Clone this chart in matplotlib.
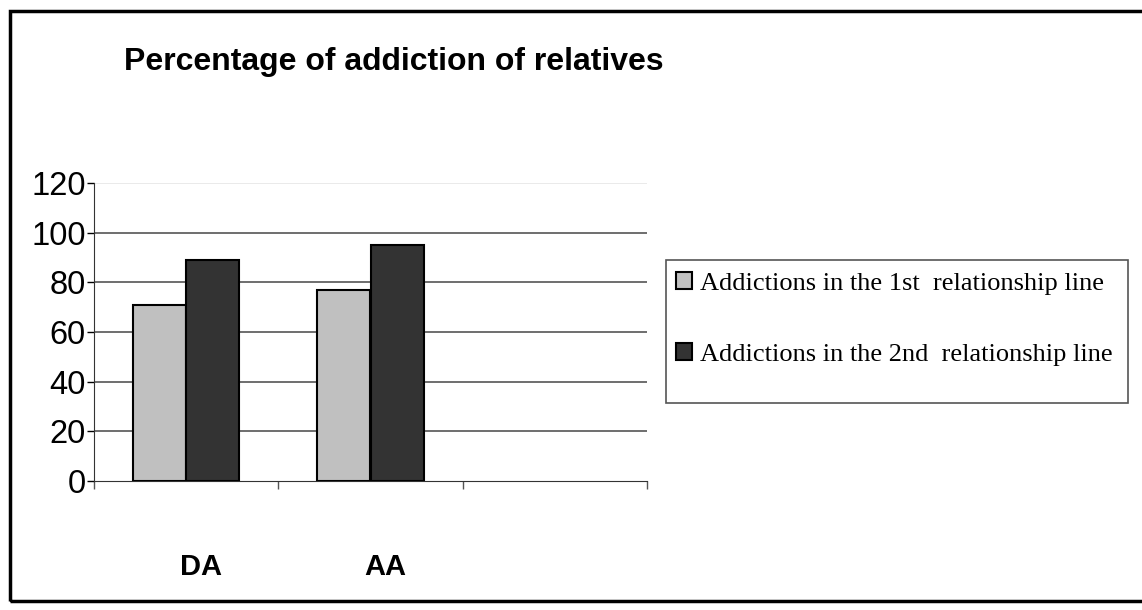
import matplotlib.pyplot as plt
from matplotlib.patches import Rectangle
import numpy as np

categories = ['DA', 'AA', '']
first_line = [71, 77, 0]
second_line = [89, 95, 0]
series_names = ['Addictions in the 1st  relationship line',
                'Addictions in the 2nd  relationship line']
yticks = [0, 20, 40, 60, 80, 100, 120]

fig = plt.figure(figsize=(11.42, 6.10), dpi=100)

# frame round the whole chart (right edge runs off the picture)
fig.add_artist(Rectangle((10 / 1142, 1 - 601 / 610), 1.0, 590 / 610,
                         transform=fig.transFigure, fill=False,
                         edgecolor='black', lw=2.5))

ax = fig.add_axes([94 / 1142, 1 - 481 / 610, 553 / 1142, 298 / 610])

x = np.arange(len(categories)) + 0.5
w = 0.288
ax.bar(x[:2] - w / 2, first_line[:2], w, color='#c0c0c0', edgecolor='black', lw=1.5,
       label=series_names[0], zorder=3)
ax.bar(x[:2] + w / 2, second_line[:2], w, color='#333333', edgecolor='black', lw=1.5,
       label=series_names[1], zorder=3)

ax.set_xlim(0, 3)
ax.set_ylim(0, 120)
ax.set_yticks(yticks)
ax.set_yticklabels([str(v) for v in yticks], fontsize=23.5, family='Liberation Sans')
for v in yticks[1:]:
    ax.axhline(v, color='#e6e6e6' if v == 120 else '#555555', lw=1.2, zorder=1)

ax.set_xticks([0, 1, 2, 3])
ax.set_xticklabels([])
ax.set_xticks(x[:2] + 0.08, minor=True)
ax.set_xticklabels(categories[:2], minor=True, fontsize=21, fontweight='bold',
                   family='Liberation Sans')
ax.tick_params(axis='x', which='minor', length=0, pad=52)
ax.tick_params(axis='x', which='major', length=6, width=1, color='#555555')
ax.tick_params(axis='y', length=5, width=1, pad=1)

for s in ['top', 'right']:
    ax.spines[s].set_visible(False)
ax.spines['left'].set_color('#333333')
ax.spines['bottom'].set_color('#333333')

fig.text(124 / 1142, 1 - 62 / 610, 'Percentage of addiction of relatives',
         fontsize=23, fontweight='bold', family='Liberation Sans',
         ha='left', va='center')

# legend box is taller than its two entries, so draw the frame separately
fig.add_artist(Rectangle((666 / 1142, 1 - 403 / 610), 462 / 1142, 143 / 610,
                         transform=fig.transFigure, fill=False,
                         edgecolor='#555555', lw=1.2))
leg = fig.legend(loc='upper left', bbox_to_anchor=(668 / 1142, 1 - 264 / 610),
                 prop={'family': 'Liberation Serif', 'size': 19},
                 frameon=False,
                 handlelength=0.6, handleheight=0.6, handletextpad=0.3,
                 labelspacing=1.85, borderpad=0.3, borderaxespad=0)

plt.savefig('out.png', dpi=100)
